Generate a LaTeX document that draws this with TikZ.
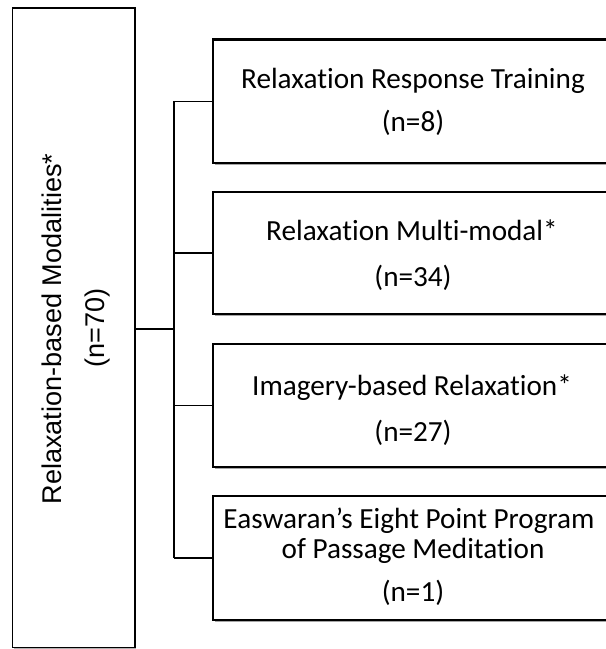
\documentclass[tikz,border=0pt]{standalone}
\usepackage{fontspec}
\setmainfont[Ligatures=NoCommon]{Carlito}
\newfontfamily\rootfont{Liberation Sans}
\usetikzlibrary{shadows,fit}
\begin{document}
\begin{tikzpicture}[x=0.75pt,y=-0.75pt,
  box/.style={draw=black, line width=1.6pt, fill=white, inner sep=0pt,
    drop shadow={shadow xshift=1.8pt, shadow yshift=-1.8pt, fill=black, opacity=0.35}},
  rootbox/.style={draw=black, line width=1.4pt, fill=white, inner sep=0pt,
    drop shadow={shadow xshift=0.8pt, shadow yshift=-0.8pt, fill=black, opacity=0.3}},
  link/.style={draw=black, line width=1.1pt},
  lbl/.style={anchor=base, inner sep=0pt, font=\fontsize{21.9}{26}\selectfont},
  rootlbl/.style={anchor=base, inner sep=0pt, rotate=90, font=\rootfont\fontsize{20.3}{24}\selectfont}]
\clip (0,0) rectangle (606,649);
\fill[white] (0,0) rectangle (606,649);

% parent box
\node[rootbox, fit={(12.5,8) (135,647.5)}] (root) {};
\node[rootlbl] (r1) at (61.5,329) {Relaxation-based Modalities*};
\node[rootlbl] (r2) at (104,328) {(n=70)};

% child boxes
\node[box, fit={(213,39.5) (613,163)}] (b1) {};
\node[box, fit={(213,191.7) (613,314)}] (b2) {};
\node[box, fit={(213,344) (613,466.7)}] (b3) {};
\node[box, fit={(213,496) (613,620)}] (b4) {};

\node[lbl] (t1a) at (413,88.3) {Relaxation Response Training};
\node[lbl] (t1b) at (413,131.7) {(n=8)};
\node[lbl] (t2a) at (412,240) {Relaxation Multi-modal*};
\node[lbl] (t2b) at (413,286) {(n=34)};
\node[lbl] (t3a) at (412,395) {Imagery-based Relaxation*};
\node[lbl] (t3b) at (413,441.7) {(n=27)};
\node[lbl] (t4a) at (409,528) {Easwaran’s Eight Point Program};
\node[lbl] (t4b) at (413,558) {of Passage Meditation};
\node[lbl] (t4c) at (413,601.7) {(n=1)};

% bracket connectors
\coordinate (j) at (174,329);
\draw[link] (root.east |- j) -- (j);
\draw[link] (b1.west -| j) -- (b4.west -| j);
\foreach \b in {b1,b2,b3,b4}
  \draw[link] (\b.west -| j) -- (\b.west);
\end{tikzpicture}
\end{document}
